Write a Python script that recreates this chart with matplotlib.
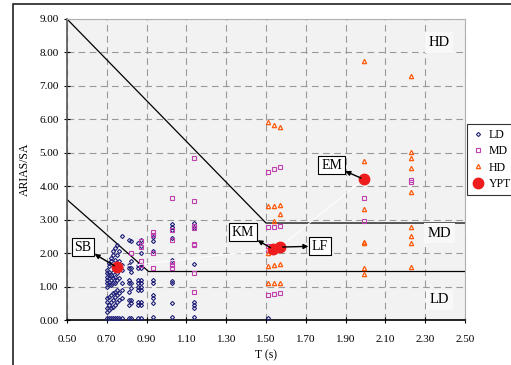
import numpy as np
import matplotlib
matplotlib.use('Agg')
import matplotlib.pyplot as plt
from matplotlib.patches import Rectangle

plt.rcParams['font.family'] = ['Liberation Serif', 'DejaVu Serif']

# ---------------- data ----------------
# LD : period column -> Arias/SA values
ld_t = [0.70, 0.71, 0.72, 0.73, 0.74, 0.75, 0.76, 0.775, 0.81, 0.82,
        0.855, 0.87, 0.93, 1.03, 1.14, 1.51]
ld_a = [[0.05, 0.25, 0.35, 0.55, 0.65, 1.00, 1.10, 1.20, 1.30, 1.40, 1.50],
        [0.05, 0.30, 0.45, 0.70, 1.05, 1.15, 1.25, 1.35, 1.45, 1.60, 1.70],
        [0.05, 0.35, 0.55, 0.75, 1.05, 1.20, 1.35, 1.75, 1.85],
        [0.05, 0.40, 0.60, 0.80, 1.10, 1.25, 1.45, 1.95, 2.05],
        [0.05, 0.45, 0.70, 0.85, 1.10, 1.30, 1.80, 2.15],
        [0.05, 0.55, 0.75, 0.90, 1.20, 1.40, 1.95, 2.25],
        [0.05, 0.60, 0.80, 1.25, 1.75, 2.05],
        [0.05, 0.65, 0.90, 1.10, 1.50, 1.65, 2.50],
        [0.05, 0.45, 0.60, 0.85, 1.10, 1.20, 1.55, 1.65, 2.40],
        [0.05, 0.50, 0.60, 0.95, 1.10, 1.45, 1.55, 1.75, 2.35],
        [0.05, 0.45, 0.55, 0.90, 1.00, 1.10, 1.20, 1.55, 1.65, 2.30],
        [0.05, 0.45, 0.55, 0.90, 1.00, 1.10, 1.20, 1.55, 1.65, 2.00, 2.20, 2.40],
        [0.08, 0.52, 0.65, 0.75, 1.10, 1.20, 2.07, 2.37, 2.49],
        [0.10, 0.52, 1.10, 1.17, 1.79, 2.44, 2.69, 2.77, 2.87],
        [0.10, 0.35, 0.45, 0.55, 1.67, 2.75, 2.89],
        [0.05]]

# MD
md_t = [0.82, 0.87, 0.93, 1.03, 1.14, 1.51, 1.54, 1.57, 1.99, 2.23]
md_a = [[2.00],
        [2.35, 2.17, 1.77, 1.63],
        [2.62, 2.55, 1.99, 1.55],
        [3.64, 2.69, 2.39, 1.74, 1.64, 1.54],
        [4.83, 3.55, 2.81, 2.76, 2.28, 2.23, 1.40, 0.85],
        [4.43, 2.77, 2.21, 2.09, 0.75],
        [4.50, 2.79, 0.78],
        [4.56, 2.81, 0.80],
        [3.66, 2.97],
        [4.20, 4.13]]

# HD
hd_t = [1.51, 1.54, 1.57, 1.99, 2.23]
hd_a = [[5.93, 3.41, 2.01, 1.60, 1.10],
        [5.82, 3.41, 2.96, 1.63, 1.10],
        [5.77, 3.45, 3.16, 1.66, 1.12],
        [7.75, 4.76, 3.31, 2.34, 2.29, 1.55, 1.39],
        [7.30, 5.03, 4.83, 4.53, 3.82, 2.79, 2.51, 2.29, 1.59]]

# YPT points
ypt_names = ['SB', 'KM', 'LF', 'EM']
ypt_t = [0.75, 1.535, 1.57, 1.99]
ypt_a = [1.58, 2.12, 2.18, 4.21]
ypt_box = [(0.58, 2.18), (1.385, 2.63), (1.77, 2.21), (1.83, 4.63)]

# damage thresholds
upper_t = [0.5, 1.5, 2.5]
upper_a = [9.0, 2.9, 2.9]
lower_t = [0.5, 0.91, 2.5]
lower_a = [3.6, 1.45, 1.45]


def expand(tt, aa):
    x, y = [], []
    for t, vals in zip(tt, aa):
        x += [t] * len(vals)
        y += vals
    return x, y


# ---------------- plot ----------------
fig = plt.figure(figsize=(5.11, 3.65), dpi=100)
ax = fig.add_axes([67/511, 45/365, 398/511, 301/365])
ax.set_facecolor('#f2f2f2')

ax.grid(True, color='#999999', linestyle=(0, (6, 4)), linewidth=0.8)
ax.set_axisbelow(True)

ax.plot(upper_t, upper_a, color='black', lw=0.9, zorder=2)
ax.plot(lower_t, lower_a, color='black', lw=0.9, zorder=2)

x, y = expand(ld_t, ld_a)
ax.plot(x, y, 'D', ms=2.1, mfc='none', mec='#22227a', mew=0.8, ls='none', label='LD', zorder=3)
x, y = expand(md_t, md_a)
ax.plot(x, y, 's', ms=3.0, mfc='none', mec='#c040b0', mew=0.8, ls='none', label='MD', zorder=3)
x, y = expand(hd_t, hd_a)
ax.plot(x, y, '^', ms=3.1, mfc='none', mec='#ff5a0a', mew=0.9, ls='none', label='HD', zorder=3)
ax.plot(ypt_t, ypt_a, '-o', color='white', lw=0.7, ms=7.5, mfc='#ee1c1c', mec='#ee1c1c',
        label='YPT', zorder=4)

for name, t, a, box in zip(ypt_names, ypt_t, ypt_a, ypt_box):
    ax.annotate(name, xy=(t, a), xytext=box, ha='center', va='center', fontsize=10,
                bbox=dict(boxstyle='square,pad=0.2', fc='white', ec='black', lw=0.8),
                arrowprops=dict(arrowstyle='<|-', color='black', lw=1.0,
                                mutation_scale=7, shrinkA=0, shrinkB=2), zorder=5)

for lab, a in [('HD', 8.3), ('MD', 2.6), ('LD', 0.6)]:
    ax.text(2.37, a, lab, ha='center', va='center', fontsize=10.5,
            bbox=dict(boxstyle='square,pad=0.25', fc='#f8f8f8', ec='none'))

ax.set_xlim(0.5, 2.5)
ax.set_ylim(0, 9)
ax.set_xticks(np.arange(0.5, 2.51, 0.2))
ax.set_yticks(np.arange(0, 9.01, 1.0))
ax.set_xticklabels(['%.2f' % v for v in np.arange(0.5, 2.51, 0.2)])
ax.set_yticklabels(['%.2f' % v for v in np.arange(0, 9.01, 1.0)])
ax.tick_params(direction='inout', length=5, labelsize=8, width=0.8)
ax.tick_params(axis='x', pad=8)

for s in ['top', 'right']:
    ax.spines[s].set_color('#b0b0b0')
ax.spines['left'].set_color('#555555')
ax.spines['left'].set_linewidth(1.2)
ax.spines['bottom'].set_color('black')
ax.spines['bottom'].set_linewidth(1.2)

ax.set_xlabel('T (s)', fontsize=8.5, labelpad=4)
ax.set_ylabel('ARIAS/SA', fontsize=8.5, labelpad=6)

leg = fig.legend(loc='upper left', bbox_to_anchor=(467/511, 1 - 124/365), fontsize=8.5,
                 frameon=True, fancybox=False, edgecolor='black', handlelength=0.9,
                 handletextpad=0.5, borderpad=0.45, borderaxespad=0, labelspacing=0.35)
leg.get_frame().set_linewidth(0.8)

# outer chart frame
fig.patches.append(Rectangle((13/511, -0.1), 1.0, 1 - 4/365 + 0.1, transform=fig.transFigure,
                             fill=False, edgecolor='#222222', lw=1.2))

fig.savefig('out.png', dpi=100)
